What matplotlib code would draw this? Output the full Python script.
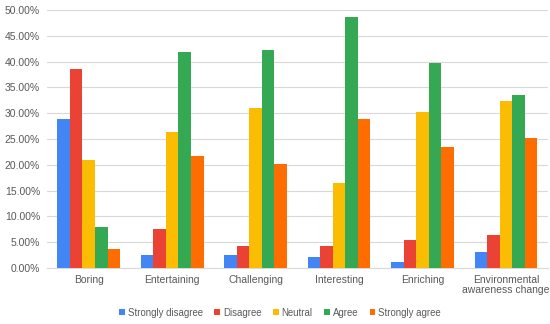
import numpy as np
import matplotlib.pyplot as plt
from matplotlib.ticker import PercentFormatter

plt.rcParams['font.family'] = ['Liberation Sans', 'DejaVu Sans']

categories = ['Boring', 'Entertaining', 'Challenging', 'Interesting', 'Enriching',
              'Environmental\nawareness change']
series = ['Strongly disagree', 'Disagree', 'Neutral', 'Agree', 'Strongly agree']
strongly_disagree = [28.9, 2.5, 2.5, 2.1, 1.2, 3.0]
disagree = [38.5, 7.6, 4.2, 4.2, 5.4, 6.3]
neutral = [20.9, 26.4, 31.0, 16.4, 30.2, 32.3]
agree = [8.0, 41.9, 42.3, 48.6, 39.8, 33.5]
strongly_agree = [3.7, 21.7, 20.1, 28.9, 23.5, 25.1]
values = [strongly_disagree, disagree, neutral, agree, strongly_agree]
colors = ['#4285F4', '#EA4335', '#FBBC04', '#34A853', '#FF6D01']

fig = plt.figure(figsize=(5.5, 3.24), dpi=100)
ax = fig.add_axes([0.0855, 0.173, 0.9105, 0.796])

x = np.arange(len(categories))
w = 0.15
for i, (name, vals) in enumerate(zip(series, values)):
    ax.bar(x + (i - 2) * w, vals, w, color=colors[i], label=name, zorder=3)

ax.set_xlim(-0.5, len(categories) - 0.5)
ax.set_ylim(0, 50)
ax.set_yticks(np.arange(0, 51, 5))
ax.yaxis.set_major_formatter(PercentFormatter(decimals=2))
ax.set_xticks(x)
ax.set_xticklabels(categories, linespacing=1.05)
ax.grid(axis='y', color='#d9d9d9', linewidth=0.8, zorder=0)
for s in ['top', 'right', 'left']:
    ax.spines[s].set_visible(False)
ax.spines['bottom'].set_color('#d9d9d9')
ax.tick_params(axis='both', length=0, labelsize=7.5, colors='#595959', pad=5)

ax.legend(loc='lower center', bbox_to_anchor=(0.465, -0.226), ncol=5, frameon=False,
          fontsize=6.9, handlelength=0.6, handleheight=0.6, handletextpad=0.3,
          columnspacing=1.2, labelcolor='#595959')

fig.savefig('out.png', dpi=100)
